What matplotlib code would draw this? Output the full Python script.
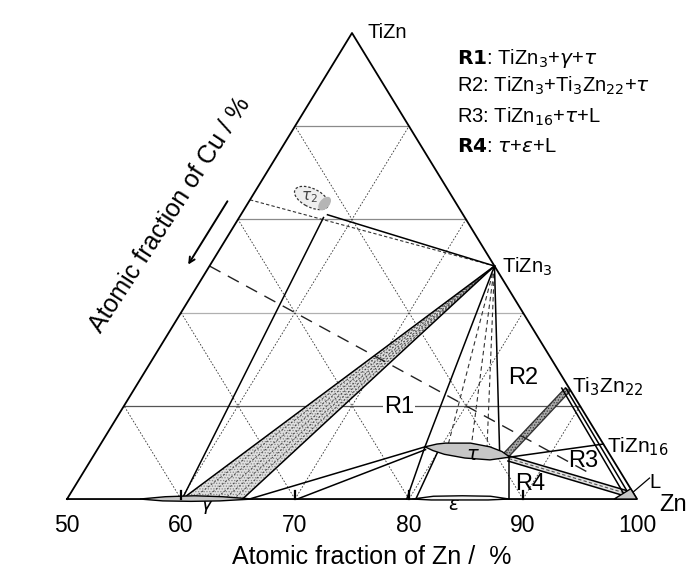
import numpy as np
import matplotlib.pyplot as plt
from matplotlib.patches import Polygon, Ellipse

plt.rcParams['font.family'] = ['Liberation Sans', 'DejaVu Sans']
plt.rcParams['hatch.linewidth'] = 0.6

# compositions are (Zn at.%, Ti at.%); Cu is the remainder
corner_zn = [50, 100, 50]
corner_ti = [0, 0, 50]
grid_zn = [60, 70, 80, 90]
grid_ti = [10, 20, 30, 40]
grid_grey = ['#555555', '#b0b0b0', '#8a8a8a', '#8a8a8a']
tick_values = [50, 60, 70, 80, 90, 100]

tizn3 = (75.0, 25.0)
ti3zn22 = (88.0, 12.0)
tizn16 = (94.1, 5.9)
liquid = (98.8, 0.7)
tau2_center = (55.3, 32.3)

tau_zn = [78.6, 79.5, 80.2, 82.4, 84.3, 85.6, 86.6, 85.0, 82.7, 80.7, 79.5, 78.6]
tau_ti = [5.6, 5.9, 6.0, 6.0, 5.6, 5.1, 4.5, 4.2, 4.4, 4.8, 5.2, 5.6]
gamma_zn = [56.4, 58.5, 61.0, 63.5, 66.3, 63.5, 61.0, 58.5, 56.4]
gamma_ti = [0.0, 0.25, 0.35, 0.25, 0.0, -0.2, -0.25, -0.2, 0.0]
eps_zn = [80.3, 82.0, 84.5, 87.0, 88.8, 87.0, 84.5, 82.0, 80.3]
eps_ti = [0.0, 0.3, 0.35, 0.3, 0.0, -0.1, -0.1, -0.1, 0.0]
liq_zn = [98.0, 100.0, 98.9]
liq_ti = [0.0, 0.0, 1.1]

# two-phase TiZn3 + gamma band (tie lines end on gamma)
band_gamma = [60.1, 65.4]
band_ties = [61.0, 62.0, 63.0, 63.8, 64.6]

# Ti3Zn22 + tau band corners
band_t3_zn = [85.8, 87.75, 88.35, 86.45]
band_t3_ti = [4.7, 11.9, 11.6, 4.45]

# solid phase boundaries: ((Zn, Ti), (Zn, Ti))
solid_lines = [
    ((57.4, 30.2), (60.1, 0.0)),      # tau2 - gamma
    ((57.6, 30.5), tizn3),            # tau2 - TiZn3
    (tizn3, (78.6, 5.6)),             # TiZn3 - tau
    (tizn3, (85.4, 5.1)),
    ((66.0, 0.0), (78.6, 5.6)),       # gamma - tau
    ((70.2, 0.0), (78.8, 5.3)),
    ((79.8, 0.0), (78.6, 5.6)),       # eps - tau
    ((80.6, 0.0), (79.9, 5.8)),
    ((86.6, 4.4), (88.8, 0.0)),       # tau - eps
    ((86.6, 4.5), tizn16),            # tau - TiZn16
    ((86.56, 4.6), (98.8, 0.86)),     # tau - L
    ((86.64, 4.08), (98.8, 0.32)),
    ((87.45, 11.9), (98.8, 0.32)),    # Ti3Zn22 - L
    ((87.8, 11.9), (99.1, 0.45)),
]
dashed_ties = [
    (tizn3, (80.5, 5.9)),
    (tizn3, (82.5, 6.0)),
    (tizn3, (84.0, 5.7)),
]
tau_l_mid = ((86.6, 4.34), (98.8, 0.59))
isopleth = ((50.0, 25.0), (94.6, 2.7))
tau2_line = ((50.0, 32.1), tizn3)


def tern(zn, ti):
    zn = np.asarray(zn, dtype=float)
    ti = np.asarray(ti, dtype=float)
    return zn + ti / 2.0, ti


def seg(ax, p, q, **kw):
    x, y = tern([p[0], q[0]], [p[1], q[1]])
    ax.plot(x, y, **kw)


fig = plt.figure(figsize=(7, 5.86), dpi=100)
ax = fig.add_axes([0, 0, 1, 1])
ax.set_xlim(44.12, 105.53)
ax.set_ylim(-9.33, 53.54)
ax.set_axis_off()

# grid
for t, c in zip(grid_ti, grid_grey):
    seg(ax, (50, t), (100 - t, t), color=c, lw=0.9, zorder=1)
for z in grid_zn:
    seg(ax, (z, 0), (z, 100 - z), color='#333333', lw=0.6, ls=(0, (2, 2)), zorder=1)
    seg(ax, (z, 0), (50, z - 50), color='#333333', lw=0.6, ls=(0, (2, 2)), zorder=1)

# outline
x, y = tern(corner_zn + [corner_zn[0]], corner_ti + [corner_ti[0]])
ax.plot(x, y, color='black', lw=1.3, zorder=5)

# TiZn3 + gamma band
px, py = tern([band_gamma[0], tizn3[0], band_gamma[1]], [0, tizn3[1], 0])
ax.add_patch(Polygon(np.column_stack([px, py]), closed=True, facecolor='#e0e0e0',
                     edgecolor='#888888', hatch='......', lw=0, zorder=2))
for g in band_gamma:
    seg(ax, (g, 0), tizn3, color='black', lw=1.1, zorder=4)
for g in band_ties:
    seg(ax, (g, 0), tizn3, color='#444444', lw=0.7, ls=(0, (2, 2)), zorder=3)

# Ti3Zn22 + tau band
bx, by = tern(band_t3_zn, band_t3_ti)
ax.add_patch(Polygon(np.column_stack([bx, by]), closed=True, facecolor='#a8a8a8',
                     edgecolor='#333333', hatch='......', lw=1.0, zorder=3))

# tau + L band filling
bx, by = tern([86.56, 98.8, 98.8, 86.64], [4.6, 0.86, 0.32, 4.08])
ax.add_patch(Polygon(np.column_stack([bx, by]), closed=True, facecolor='#e2e2e2',
                     lw=0, zorder=2))
seg(ax, tau_l_mid[0], tau_l_mid[1], color='#555555', lw=0.8, ls=(0, (3, 2)), zorder=3)

for p, q in solid_lines:
    seg(ax, p, q, color='black', lw=1.1, zorder=4)
for p, q in dashed_ties:
    seg(ax, p, q, color='#333333', lw=0.8, ls=(0, (4, 3)), zorder=3)
seg(ax, isopleth[0], isopleth[1], color='#222222', lw=1.0, ls=(0, (9, 6)), zorder=3)
seg(ax, tau2_line[0], tau2_line[1], color='#333333', lw=0.8, ls=(0, (3, 2)), zorder=3)

# single phase regions
for zz, tt in [(tau_zn, tau_ti), (gamma_zn, gamma_ti), (liq_zn, liq_ti)]:
    rx, ry = tern(zz, tt)
    ax.add_patch(Polygon(np.column_stack([rx, ry]), closed=True, facecolor='#c6c6c6',
                         edgecolor='black', lw=1.0, zorder=6))
rx, ry = tern(eps_zn, eps_ti)
ax.add_patch(Polygon(np.column_stack([rx, ry]), closed=True, facecolor='#f2f2f2',
                     edgecolor='black', lw=1.0, zorder=6))

# tau2
cx, cy = tern(*tau2_center)
ax.add_patch(Ellipse((cx, cy), 3.4, 1.9, angle=-35, facecolor='#eeeeee',
                     edgecolor='#333333', lw=0.9, ls=(0, (2, 1.5)), zorder=6))
gx, gy = tern(tau2_center[0] + 1.45, tau2_center[1] - 0.6)
ax.add_patch(Ellipse((gx, gy), 0.9, 1.6, angle=-30, facecolor='#b5b5b5',
                     edgecolor='none', zorder=6))
ax.text(cx - 0.2, cy + 0.1, r'$\tau_2$', fontsize=11, color='#444444',
        ha='center', va='center', zorder=7)

# bottom ticks
for z in grid_zn:
    ax.plot([z, z], [0, 0.9], color='black', lw=1.6, zorder=6)

# tick labels and axis titles
for v in tick_values:
    ax.text(v, -2.8, str(v), fontsize=16.5, ha='center', va='center')
ax.text(76.75, -6.2, 'Atomic fraction of Zn /  %', fontsize=18, ha='center', va='center')
ax.text(59.0, 30.5, 'Atomic fraction of Cu / %', fontsize=18, ha='center', va='center',
        rotation=57, rotation_mode='anchor')
ax.annotate('', xy=(60.5, 24.9), xytext=(64.2, 32.2),
            arrowprops=dict(arrowstyle='->', color='black', lw=1.4))

# phase labels
ax.text(78.1, 50.1, 'TiZn', fontsize=14.5, ha='center', va='center')
ax.text(88.2, 24.9, r'TiZn$_3$', fontsize=14.5, ha='left', va='center')
ax.text(94.3, 12.0, r'Ti$_3$Zn$_{22}$', fontsize=15, ha='left', va='center')
ax.text(97.4, 5.6, r'TiZn$_{16}$', fontsize=15, ha='left', va='center')
ax.text(103.2, -0.6, 'Zn', fontsize=17, ha='center', va='center')
ax.text(101.6, 1.8, 'L', fontsize=14.5, ha='center', va='center')
ax.plot([99.56, 101.1], [0.64, 2.25], color='black', lw=0.9)
ax.text(85.6, 4.7, r'$\tau$', fontsize=14, ha='center', va='center', zorder=8)
ax.text(62.3, -0.8, r'$\gamma$', fontsize=14, ha='center', va='center')
ax.text(83.9, -0.7, r'$\varepsilon$', fontsize=14, ha='center', va='center')

# region labels
ax.text(79.1, 9.87, 'R1', fontsize=17, ha='center', va='center', zorder=8,
        bbox=dict(facecolor='white', edgecolor='none', pad=0.5))
ax.text(90.0, 13.0, 'R2', fontsize=17, ha='center', va='center', zorder=8)
ax.text(95.3, 4.1, 'R3', fontsize=17, ha='center', va='center', zorder=8)
ax.text(90.6, 1.6, 'R4', fontsize=17, ha='center', va='center', zorder=8)

legend_rows = [
    (r'$\mathbf{R1}$: TiZn$_3$+$\gamma$+$\tau$', 47.3),
    (r'R2: TiZn$_3$+Ti$_3$Zn$_{22}$+$\tau$', 44.3),
    (r'R3: TiZn$_{16}$+$\tau$+L', 41.0),
    (r'$\mathbf{R4}$: $\tau$+$\varepsilon$+L', 37.8),
]
for txt, t in legend_rows:
    ax.text(84.2, t, txt, fontsize=14.5, ha='left', va='center')

fig.savefig('out.png', dpi=100)
